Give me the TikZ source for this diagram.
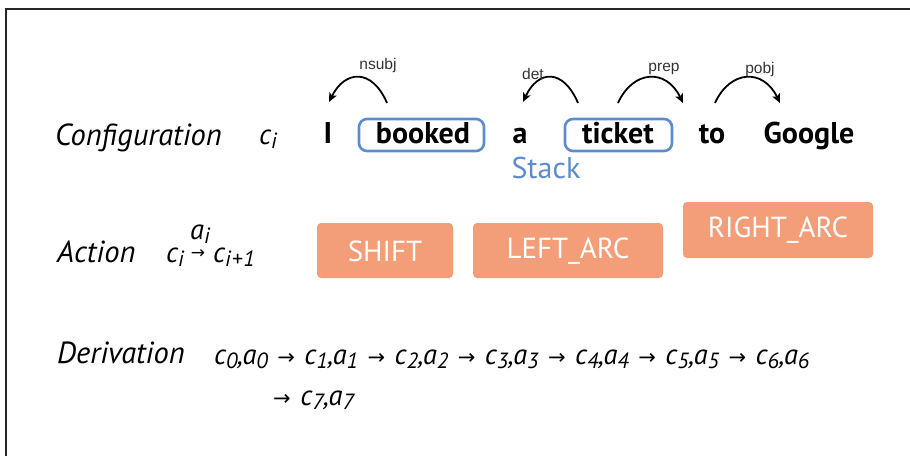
\documentclass[tikz,border=0pt]{standalone}
\usepackage{fontspec}
\setmainfont{PT Sans}
\newfontfamily\labfont{Liberation Sans}
\newfontfamily\arrfont{DejaVu Sans}
\usetikzlibrary{arrows.meta}
\definecolor{salmon}{RGB}{243,158,120}
\definecolor{stackblue}{RGB}{92,140,206}
\newcommand\sbs[1]{\raisebox{-0.3ex}{\fontsize{22}{22}\selectfont #1}}
\newcommand\ca[1]{c\sbs{#1},a\sbs{#1}}
\newcommand\tarr{\hspace{9.5pt}{\arrfont\fontsize{21}{21}\selectfont →}\hspace{9.5pt}}
\tikzset{
  rowlab/.style={anchor=base west, inner sep=0pt, font=\itshape\fontsize{30.5}{30}\selectfont},
  word/.style={anchor=base, inner sep=0pt, font=\bfseries\fontsize{30}{30}\selectfont},
  stackbox/.style={draw=stackblue, line width=2.6pt, rounded corners=8pt},
  deplab/.style={inner sep=0pt, font=\labfont\fontsize{15.5}{15}\selectfont, text=black!80},
  dep/.style={line width=1.8pt, -{Stealth[length=9pt,width=8pt,inset=2pt]}},
  action/.style={fill=salmon, rounded corners=4pt},
  acttext/.style={text=white, inner sep=0pt, font=\fontsize{29}{29}\selectfont},
  formula/.style={inner sep=0pt, font=\itshape\fontsize{28.5}{28}\selectfont}
}
\begin{document}
\begin{tikzpicture}[x=1pt,y=-1pt]
\useasboundingbox (0,0) rectangle (910,456);
\coordinate (fb) at (6,456);
\coordinate (fc) at (6,9);
\coordinate (fr) at (910,9);
\draw[line width=2.6pt, black!85] (fb) -- (fc) -- (fr);

% Configuration row
\node[rowlab] (conf) at (55,145) {Configuration};
\node[formula, anchor=base west] (ci) at (259,144) {c\sbs{i}};
\node[word] (wI) at (328,143) {I};
\node[word] (wbooked) at (423,143) {booked};
\node[word] (wa) at (520,143) {a};
\node[word] (wticket) at (618,143) {ticket};
\node[word] (wto) at (712,143) {to};
\node[word] (wgoogle) at (809,143) {Google};
\draw[stackbox] (359,119) rectangle (484,151);
\draw[stackbox] (565,119) rectangle (672,151);
\node[inner sep=0pt, anchor=base, text=stackblue, font=\fontsize{30}{30}\selectfont] (stack) at (546,178) {Stack};

% dependency arcs
\coordinate (ns1) at (387,103); \coordinate (ns2) at (329,102);
\coordinate (de1) at (578,103); \coordinate (de2) at (523,102);
\coordinate (pr1) at (618,103); \coordinate (pr2) at (683,103);
\coordinate (po1) at (715,103); \coordinate (po2) at (780,103);
\draw[dep] (ns1) .. controls (372,68) and (345,70) .. (ns2);
\draw[dep] (de1) .. controls (563,68) and (538,70) .. (de2);
\draw[dep] (pr1) .. controls (633,70) and (666,68) .. (pr2);
\draw[dep] (po1) .. controls (730,70) and (763,68) .. (po2);
\node[deplab] (lns) at (378,65) {nsubj};
\node[deplab] (lde) at (533,74) {det};
\node[deplab] (lpr) at (664,69) {prep};
\node[deplab] (lpo) at (760,69) {pobj};

% Action row
\node[rowlab] (act) at (57,262) {Action};
\node[formula, anchor=base west] (fci) at (166,262) {c\sbs{i}};
\node[inner sep=0pt, font=\arrfont\fontsize{17}{17}\selectfont] (farr) at (198,254) {→};
\node[formula, anchor=base] (fai) at (200,239) {a\sbs{i}};
\node[formula, anchor=base west] (fcip) at (213,262) {c\sbs{i\kern1pt+\kern1pt1}};

\path[action] (317,223) rectangle (453,278);
\node[acttext] (shift) at (385,251) {SHIFT};
\path[action] (473,223) rectangle (663,278);
\node[acttext] (larc) at (568,251) {LEFT\_ARC};
\path[action] (683,202) rectangle (873,258);
\node[acttext] (rarc) at (778,230) {RIGHT\_ARC};

% Derivation row
\node[rowlab] (der) at (57,363) {Derivation};
\node[formula, anchor=base west] (seq) at (214,364) {\ca0\tarr\ca1\tarr\ca2\tarr\ca3\tarr\ca4\tarr\ca5\tarr\ca6};
\node[formula, anchor=base west] (seq2) at (273,405) {{\arrfont\fontsize{21}{21}\selectfont →}\hspace{9.5pt}\ca7};
\end{tikzpicture}
\end{document}
